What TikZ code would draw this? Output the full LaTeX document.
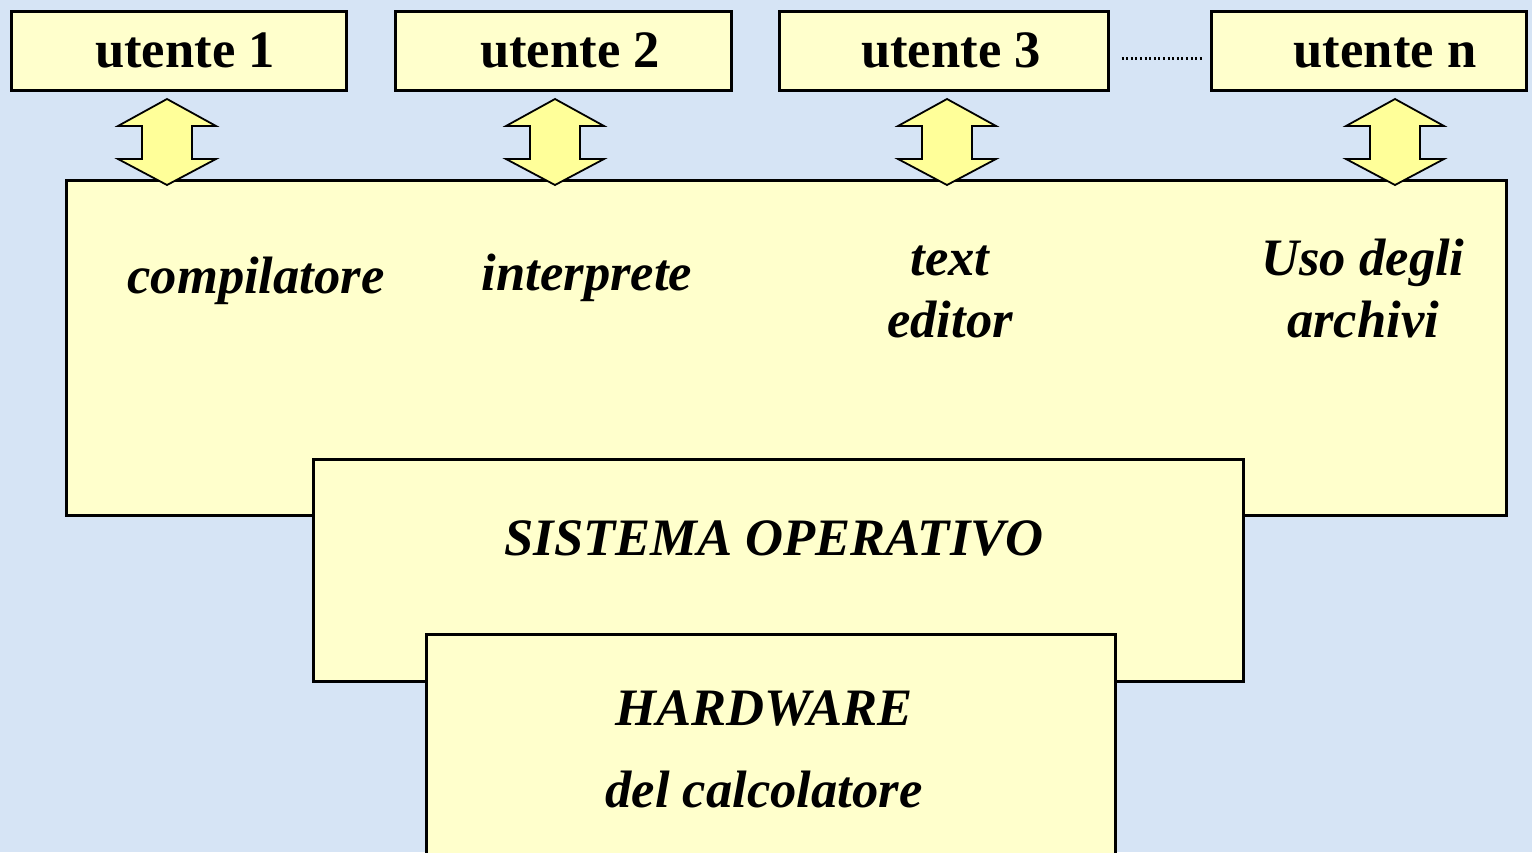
\documentclass[tikz,border=0pt]{standalone}
\usepackage{fontspec}
\setmainfont{Liberation Serif}
\usetikzlibrary{fit,calc}
\definecolor{bgblue}{RGB}{214,228,245}
\definecolor{boxfill}{RGB}{255,255,204}
\definecolor{arrowfill}{RGB}{255,255,153}
\begin{document}
\begin{tikzpicture}[x=0.5pt,y=-0.5pt,
  box/.style={draw=black,line width=1.5pt,fill=boxfill,inner sep=0pt},
  lbl/.style={font=\fontsize{26.3}{32}\selectfont\bfseries,anchor=base,inner sep=0pt},
  ilbl/.style={font=\fontsize{26.3}{32}\selectfont\bfseries\itshape,anchor=base,inner sep=0pt},
  darrow/.style={draw=black,line width=0.9pt,fill=arrowfill,line join=miter},
  dots/.style={line width=1.1pt,dash pattern=on 1pt off 1.3pt}]
\useasboundingbox (0,0) rectangle (1532,852);
\clip (0,0) rectangle (1532,852);
\fill[bgblue] (0,0) rectangle (1532,852);
% user boxes
\node[box,fit={(11,11) (346,90)}] (u1) {};
\node[box,fit={(395,11) (731,90)}] (u2) {};
\node[box,fit={(779,11) (1108,90)}] (u3) {};
\node[box,fit={(1211,11) (1526,90)}] (un) {};
\node[lbl] (tu1) at (185,67) {utente 1};
\node[lbl] (tu2) at (570,67) {utente 2};
\node[lbl] (tu3) at (951,67) {utente 3};
\node[lbl] (tun) at (1385,67) {utente n};
\draw[dots] ($(u3.east)+(12,8)$) -- ($(un.west)+(-7,8)$);
% layers
\node[box,fit={(66,180) (1506,515)}] (app) {};
\node[box,fit={(313,459) (1243,681)}] (so) {};
\node[box,fit={(426,634) (1115,870)}] (hw) {};
% double arrows
\foreach \x in {167,555,947,1395}{
  \draw[darrow] (\x,99) -- ++(49,27) -- ++(-24,0) -- ++(0,33) -- ++(24,0)
    -- (\x,185) -- ++(-49,-26) -- ++(24,0) -- ++(0,-33) -- ++(-24,0) -- cycle;
}
% texts
\node[ilbl] (comp) at (256,293) {compilatore};
\node[ilbl] (interp) at (587,290) {interprete};
\node[ilbl] (te1) at (950,275) {text};
\node[ilbl] (te2) at (950,337) {editor};
\node[ilbl] (ar1) at (1363,275) {Uso degli};
\node[ilbl] (ar2) at (1363,337) {archivi};
\node[ilbl] (sotxt) at (774,555) {SISTEMA OPERATIVO};
\node[ilbl] (hw1) at (764,725) {HARDWARE};
\node[ilbl] (hw2) at (764,807) {del calcolatore};
\end{tikzpicture}
\end{document}
